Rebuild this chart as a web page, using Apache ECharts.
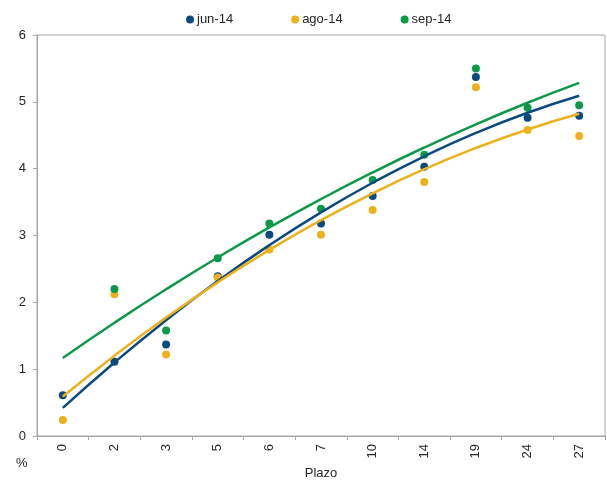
<!DOCTYPE html>
<html>
<head>
<meta charset="utf-8">
<script src="https://cdn.jsdelivr.net/npm/echarts@6/dist/echarts.min.js"></script>
<style>
  html, body { margin: 0; padding: 0; background: #fff; }
  #chart { width: 607px; height: 485px; }
</style>
</head>
<body>
<div id="chart"></div>
<script>
// Plazo (term) categories and yields (%) per month
const categories = ['0', '2', '3', '5', '6', '7', '10', '14', '19', '24', '27'];
const jun14 = [0.61, 1.11, 1.37, 2.39, 3.01, 3.18, 3.59, 4.03, 5.37, 4.76, 4.79];
const ago14 = [0.24, 2.12, 1.22, 2.37, 2.79, 3.01, 3.38, 3.80, 5.22, 4.58, 4.49];
const sep14 = [null, 2.20, 1.58, 2.66, 3.18, 3.40, 3.83, 4.21, 5.50, 4.91, 4.95];
const seriesNames = ['jun-14', 'ago-14', 'sep-14'];
const colors = ['#0B4A80', '#EDB11B', '#0C9A4A'];

// Second-order polynomial least-squares trend over category index (1..n)
function quadTrend(values) {
  const pts = [];
  values.forEach((v, i) => { if (v != null) pts.push([i + 1, v]); });
  const S = [0, 0, 0, 0, 0], T = [0, 0, 0];
  pts.forEach(([x, y]) => {
    for (let k = 0; k < 5; k++) S[k] += Math.pow(x, k);
    for (let k = 0; k < 3; k++) T[k] += y * Math.pow(x, k);
  });
  // Normal equations: [S0 S1 S2; S1 S2 S3; S2 S3 S4] * [a b c] = T
  const M = [[S[0], S[1], S[2], T[0]], [S[1], S[2], S[3], T[1]], [S[2], S[3], S[4], T[2]]];
  for (let i = 0; i < 3; i++) {
    for (let j = i + 1; j < 3; j++) {
      const f = M[j][i] / M[i][i];
      for (let k = i; k < 4; k++) M[j][k] -= f * M[i][k];
    }
  }
  const c = [0, 0, 0];
  for (let i = 2; i >= 0; i--) {
    let s = M[i][3];
    for (let k = i + 1; k < 3; k++) s -= M[i][k] * c[k];
    c[i] = s / M[i][i];
  }
  return values.map((_, i) => {
    const x = i + 1;
    return +(c[0] + c[1] * x + c[2] * x * x).toFixed(4);
  });
}

const dataSets = [jun14, ago14, sep14];
const font = 'Liberation Sans, Arial, sans-serif';
const axisGrey = '#A6A6A6';
const textColor = '#262626';

const series = [];
dataSets.forEach((d, i) => {
  series.push({
    name: seriesNames[i],
    type: 'scatter',
    data: d,
    symbol: 'circle',
    symbolSize: 8,
    itemStyle: { color: colors[i], opacity: 1 },
    z: 2 + i
  });
});
dataSets.forEach((d, i) => {
  series.push({
    name: seriesNames[i] + ' tendencia',
    type: 'line',
    data: quadTrend(d),
    smooth: true,
    showSymbol: false,
    symbol: 'none',
    lineStyle: { color: colors[i], width: 2.5 },
    z: 6 + i,
    silent: true
  });
});

const chart = echarts.init(document.getElementById('chart'), null, { renderer: 'canvas' });
chart.setOption({
  animation: false,
  backgroundColor: '#fff',
  textStyle: { fontFamily: font },
  legend: {
    data: seriesNames.map((n, i) => ({ name: n, icon: 'circle', itemStyle: { color: colors[i], opacity: 1 } })),
    top: 8,
    left: 181,
    itemWidth: 8,
    itemHeight: 8,
    itemGap: 58,
    textStyle: { fontSize: 13, color: textColor, fontFamily: font, padding: [0, 0, 0, -2] }
  },
  grid: {
    left: 37, right: 2, top: 35, bottom: 46,
    show: true, borderColor: axisGrey, borderWidth: 1
  },
  xAxis: {
    type: 'category',
    data: categories,
    boundaryGap: true,
    name: 'Plazo',
    nameLocation: 'middle',
    nameGap: 31,
    nameTextStyle: { fontSize: 13, color: textColor, fontFamily: font },
    axisLine: { lineStyle: { color: axisGrey } },
    axisTick: { show: true, length: 4, lineStyle: { color: axisGrey } },
    axisLabel: { rotate: 90, fontSize: 13, color: textColor, margin: 8, fontFamily: font }
  },
  yAxis: {
    type: 'value',
    min: 0, max: 6, interval: 1,
    axisLine: { show: true, lineStyle: { color: axisGrey } },
    axisTick: { show: true, length: 4, lineStyle: { color: axisGrey } },
    splitLine: { show: false },
    axisLabel: { fontSize: 13, color: textColor, margin: 11, fontFamily: font }
  },
  graphic: [{
    type: 'text',
    left: 16, top: 457,
    style: { text: '%', fontSize: 13, fill: textColor, fontFamily: font }
  }],
  series: series
});
</script>
</body>
</html>
